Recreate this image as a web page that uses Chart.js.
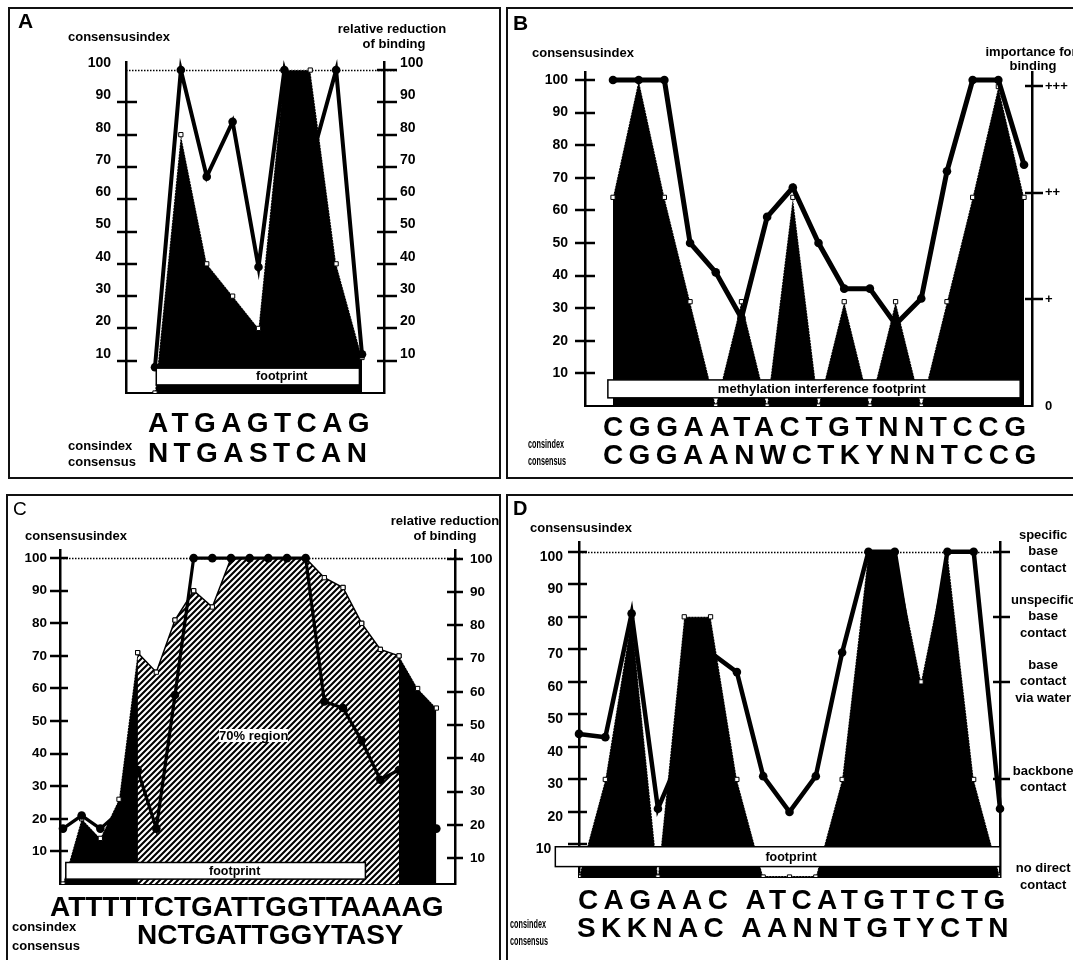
<!DOCTYPE html>
<html>
<head>
<meta charset="utf-8">
<script src="https://cdn.jsdelivr.net/npm/chart.js@4.4.1/dist/chart.umd.min.js"></script>
<style>
html, body { margin: 0; padding: 0; background: #fff; overflow: hidden; }
body { width: 1073px; height: 960px; position: relative; font-family: "Liberation Sans", Arial, Helvetica, sans-serif; }
.panel { position: absolute; box-sizing: border-box; border: 2px solid #111; }
.cv { position: absolute; }
.t { position: absolute; white-space: nowrap; line-height: 1; font-weight: bold; color: #000; }
</style>
</head>
<body>
<div class="panel" style="left:8px;top:7px;width:493px;height:472px"></div>
<div class="panel" style="left:506px;top:7px;width:580px;height:472px"></div>
<div class="panel" style="left:6px;top:494px;width:495px;height:480px"></div>
<div class="panel" style="left:506px;top:494px;width:580px;height:480px"></div>

<canvas id="chartA" class="cv" width="488" height="466" style="left:10px;top:10px"></canvas>
<canvas id="chartB" class="cv" width="564" height="466" style="left:509px;top:10px"></canvas>
<canvas id="chartC" class="cv" width="490" height="463" style="left:9px;top:497px"></canvas>
<canvas id="chartD" class="cv" width="564" height="463" style="left:509px;top:497px"></canvas>

<script>
// ---- data ----
const yTicks = [10, 20, 30, 40, 50, 60, 70, 80, 90, 100];

// A
const seqA = 'ATGAGTCAG';
const consA = 'NTGASTCAN';
const fillA = [0, 80, 40, 30, 20, 100, 100, 40, 11];
const lineA = [8, 100, 67, 84, 39, 100, 71, 100, 12];
const footA = [0.05, 7.9];

// B
const seqB = 'CGGAATACTGTNNTCCG';
const consB = 'CGGAANWCTKYNNTCCG';
const fillB = [64, 100, 64, 32, 0, 32, 0, 64, 0, 32, 0, 32, 0, 32, 64, 98, 64];
const lineB = [100, 100, 100, 50, 41, 27, 58, 67, 50, 36, 36, 25, 33, 72, 100, 100, 74];
const footB = [-0.2, 15.85];
const importanceB = ['0', '+', '++', '+++'];
const importanceLevelsB = [0, 1, 2, 3];

// C
const seqC = 'ATTTTTCTGATTGGTTAAAAG';
const consC = 'NCTGATTGGYTASY';
const fillC = [0, 20, 14, 26, 71, 65, 81, 90, 85, 100, 100, 100, 100, 100, 94, 91, 80, 72, 70, 60, 54];
const lineC = [17, 21, 17, 22, 35, 17, 58, 100, 100, 100, 100, 100, 100, 100, 56, 54, 44, 32, 35, 25, 17];
const footC = [0.15, 16.2];
const region70C = [4, 18];

// D
const seqD = 'CAGAAC ATCATGTTCTG';
const consD = 'SKKNAC AANNTGTYCTN';
const fillD = [0, 30, 80, 0, 80, 80, 30, 0, 0, 0, 30, 100, 100, 60, 100, 30, 0];
const lineD = [44, 43, 81, 21, 40, 69, 63, 31, 20, 31, 69, 100, 100, 50, 100, 100, 21];
const footD = [-0.9, 16];
const contactLevelsD = [0, 30, 60, 80, 100];
const contactNamesD = [['no direct', 'contact'], ['backbone', 'contact'], ['base', 'contact', 'via water'], ['unspecific', 'base', 'contact'], ['specific', 'base', 'contact']];

const FONT = '"Liberation Sans", Arial, Helvetica, sans-serif';

function pts(arr, from) {
    return arr.map((v, i) => ({x: i + (from || 0), y: v}));
}

function fillSet(values, color, order, from, border) {
    return {
        data: pts(values, from), fill: 'origin', backgroundColor: color,
        borderColor: border || 'rgba(255,255,255,0.85)', borderWidth: border ? 1.5 : 1, borderDash: border ? [] : [1, 2],
        pointStyle: 'rect', pointRadius: 3, pointBackgroundColor: '#fff', pointBorderColor: '#000', pointBorderWidth: 1,
        tension: 0, order: order
    };
}

function lineSet(values, width) {
    return {
        data: pts(values), fill: false, borderColor: '#000', borderWidth: width,
        pointRadius: 4.3, pointBackgroundColor: '#000', pointBorderWidth: 0,
        tension: 0, order: 1, clip: false
    };
}

function yAxis(pos, o) {
    const ticks = {autoSkip: false, padding: o.pad, labelOffset: o.off || 0, color: '#000',
        font: {family: FONT, weight: 'bold', size: o.size || 14, lineHeight: o.lh || 1.2}};
    if (o.cross) ticks.crossAlign = o.cross;
    if (o.labels) ticks.callback = (v, i) => o.labels[i];
    if (o.cb) ticks.callback = o.cb;
    return {
        type: 'linear', axis: 'y', position: pos, min: o.min || 0, max: o.max,
        grid: {display: false, drawTicks: false}, border: {display: true, color: '#000', width: 2.5},
        afterBuildTicks: s => { s.ticks = (o.ticks || yTicks).map(v => ({value: v})); },
        afterFit: s => { s.width = o.width; },
        ticks: ticks
    };
}

function xAxis(min, max) {
    return {
        type: 'linear', min: min, max: max,
        grid: {display: false, drawTicks: false}, border: {display: true, color: '#000', width: 2},
        ticks: {display: false},
        afterFit: s => { s.height = 0; }
    };
}

// dotted 100 line, ticks crossing the axes, footprint bar
const figPlugin = {
    id: 'fig',
    beforeDatasetsDraw(chart, args, o) {
        const {ctx, chartArea: a, scales} = chart;
        if (o.ref != null) {
            const y = Math.round(scales.y.getPixelForValue(o.ref)) + 0.5;
            ctx.save();
            ctx.strokeStyle = '#000';
            ctx.lineWidth = 1.5;
            ctx.setLineDash([1.5, 1.5]);
            ctx.beginPath();
            ctx.moveTo(a.left, y);
            ctx.lineTo(a.right + (o.refExt || 0), y);
            ctx.stroke();
            ctx.restore();
        }
    },
    afterDatasetsDraw(chart, args, o) {
        const {ctx, chartArea: a, scales} = chart;
        ctx.save();
        ctx.strokeStyle = '#000';
        ctx.lineWidth = 2.5;
        (o.marks || []).forEach(m => {
            const s = scales[m.axis];
            const x0 = s.position === 'left' ? a.left : a.right;
            s.ticks.forEach(t => {
                if (m.skip && m.skip.includes(t.value)) return;
                const y = Math.round(s.getPixelForValue(t.value));
                ctx.beginPath();
                ctx.moveTo(x0 - m.l, y);
                ctx.lineTo(x0 + m.r, y);
                ctx.stroke();
            });
        });
        const f = o.foot;
        if (f) {
            const xs = scales.x, ys = scales.y;
            const x1 = xs.getPixelForValue(f.range[0]), x2 = xs.getPixelForValue(f.range[1]);
            const y1 = ys.getPixelForValue(f.hi), y2 = ys.getPixelForValue(f.lo);
            ctx.fillStyle = '#fff';
            ctx.fillRect(x1, y1, x2 - x1, y2 - y1);
            ctx.lineWidth = 1.5;
            ctx.strokeRect(x1, y1, x2 - x1, y2 - y1);
            ctx.fillStyle = '#000';
            ctx.font = 'bold ' + (f.size || 12.5) + 'px ' + FONT;
            ctx.textAlign = 'center';
            ctx.textBaseline = 'middle';
            ctx.fillText(f.text, xs.getPixelForValue(f.at), (y1 + y2) / 2 + 0.5);
        }
        ctx.restore();
    }
};

function makeChart(id, datasets, scales, fig, pad) {
    return new Chart(document.getElementById(id), {
        type: 'line',
        data: {datasets: datasets},
        options: {
            responsive: false, animation: false, events: [],
            layout: {padding: {left: 0, right: 0, top: pad[0], bottom: pad[1]}},
            plugins: {legend: {display: false}, tooltip: {enabled: false}, fig: fig},
            scales: scales
        },
        plugins: [figPlugin]
    });
}

// hatch for the 70% region
const tile = document.createElement('canvas');
tile.width = tile.height = 6;
const tg = tile.getContext('2d');
tg.fillStyle = '#fff';
tg.fillRect(0, 0, 6, 6);
tg.strokeStyle = '#000';
tg.lineWidth = 2.1;
tg.beginPath();
tg.moveTo(-1, 7); tg.lineTo(7, -1);
tg.moveTo(-1, 1); tg.lineTo(1, -1);
tg.moveTo(5, 7); tg.lineTo(7, 5);
tg.stroke();
const hatch = document.getElementById('chartC').getContext('2d').createPattern(tile, 'repeat');

// ---- charts ----
makeChart('chartA',
    [lineSet(lineA, 4), fillSet(fillA, '#000', 2)],
    {
        x: xAxis(-1.12, 8.85),
        y: yAxis('left', {max: 102.5, width: 116, pad: 15, off: -7}),
        y2: yAxis('right', {max: 102.5, width: 114, pad: 16, off: -7})
    },
    {ref: 100, refExt: 13,
     marks: [{axis: 'y', l: 9, r: 11, skip: [100]}, {axis: 'y2', l: 7, r: 13}],
     foot: {range: footA, lo: 2.5, hi: 7.7, text: 'footprint', at: 4.9}},
    [52, 83]);

makeChart('chartB',
    [lineSet(lineB, 5), fillSet(fillB, '#000', 2)],
    {
        x: xAxis(-1.09, 16.31),
        y: yAxis('left', {max: 102.45, width: 76, pad: 17}),
        y2: yAxis('right', {max: 102.45 / 32.7, width: 41, pad: 13, size: 13, ticks: importanceLevelsB, labels: importanceB})
    },
    {ref: null,
     marks: [{axis: 'y', l: 10, r: 10}, {axis: 'y2', l: 7, r: 11, skip: [0]}],
     foot: {range: footB, lo: 2.5, hi: 8, text: 'methylation interference footprint', at: 8.13, size: 13}},
    [62, 70]);

makeChart('chartC',
    [lineSet(lineC, 3.2),
     fillSet(fillC.slice(region70C[0], region70C[1] + 1), hatch, 2, region70C[0], '#000'),
     fillSet(fillC, '#000', 3)],
    {
        x: xAxis(-0.16, 21.0),
        y: yAxis('left', {max: 102.5, width: 51, pad: 13, size: 13.5}),
        y2: yAxis('right', {min: 2.2, max: 102.7, width: 44, pad: 15, size: 13.5})
    },
    {ref: 100, refExt: 5,
     marks: [{axis: 'y', l: 10, r: 8}, {axis: 'y2', l: 8, r: 8}],
     foot: {range: footC, lo: 1.5, hi: 6.6, text: 'footprint', at: 9.2}},
    [53, 76]);

makeChart('chartD',
    [lineSet(lineD, 4.5), fillSet(fillD, '#000', 2)],
    {
        x: xAxis(0, 16),
        // the "10" label sits left of the footprint bar in the original
        y: yAxis('left', {max: 103, width: 70, pad: 16, off: 5, cb: v => v === 10 ? '10   ' : String(v)}),
        y2: yAxis('right', {max: 103, width: 73, pad: 11, size: 13, lh: 1.28, cross: 'center', ticks: contactLevelsD, labels: contactNamesD})
    },
    {ref: 100, refExt: 0,
     marks: [{axis: 'y', l: 11, r: 8}, {axis: 'y2', l: 7, r: 10, skip: [0]}],
     foot: {range: footD, lo: 3.2, hi: 9.3, text: 'footprint', at: 8.06}},
    [45, 83]);

// ---- text ----
function txt(x, base, str, size, o) {
    o = o || {};
    const d = document.createElement('div');
    d.className = 't';
    d.textContent = str;
    d.style.fontSize = size + 'px';
    d.style.left = x + 'px';
    d.style.top = (base - 0.8465 * size) + 'px';
    if (o.ls) d.style.letterSpacing = o.ls + 'px';
    if (o.normal) d.style.fontWeight = 'normal';
    if (o.bg) d.style.background = o.bg;
    let tf = '';
    if (o.center) tf += 'translateX(-50%) ';
    if (o.sx) { tf += 'scaleX(' + o.sx + ')'; d.style.transformOrigin = 'left center'; }
    if (tf) d.style.transform = tf;
    document.body.appendChild(d);
}

// A
txt(18, 28, 'A', 21);
txt(68, 41, 'consensusindex', 13);
txt(392, 33, 'relative reduction', 13, {center: true});
txt(394, 48, 'of binding', 13, {center: true});
txt(68, 450, 'consindex', 13);
txt(68, 466, 'consensus', 13);
txt(148, 433, seqA, 28, {ls: 5.4});
txt(148, 463, consA, 28, {ls: 5.4});

// B
txt(513, 30, 'B', 21);
txt(532, 57, 'consensusindex', 13);
txt(1031, 56, 'importance for', 13, {center: true});
txt(1033, 70, 'binding', 13, {center: true});
txt(528, 448, 'consindex', 13, {sx: 0.56});
txt(528, 465, 'consensus', 13, {sx: 0.56});
txt(603, 437, seqB, 28, {ls: 5.6});
txt(603, 465, consB, 28, {ls: 5.4});

// C
txt(13, 515, 'C', 19, {normal: true});
txt(25, 540, 'consensusindex', 13);
txt(445, 525, 'relative reduction', 13, {center: true});
txt(445, 540, 'of binding', 13, {center: true});
txt(219, 740, '70% region', 13, {bg: '#fff'});
txt(12, 931, 'consindex', 13);
txt(12, 950, 'consensus', 13);
txt(50, 917, seqC, 28);
txt(137, 945, consC, 28);

// D
txt(513, 515, 'D', 20);
txt(530, 532, 'consensusindex', 13);
txt(510, 928, 'consindex', 13, {sx: 0.56});
txt(510, 945, 'consensus', 13, {sx: 0.56});
txt(578, 910, seqD, 28, {ls: 5.4});
txt(577, 938, consD, 28, {ls: 5.4});
</script>
</body>
</html>
